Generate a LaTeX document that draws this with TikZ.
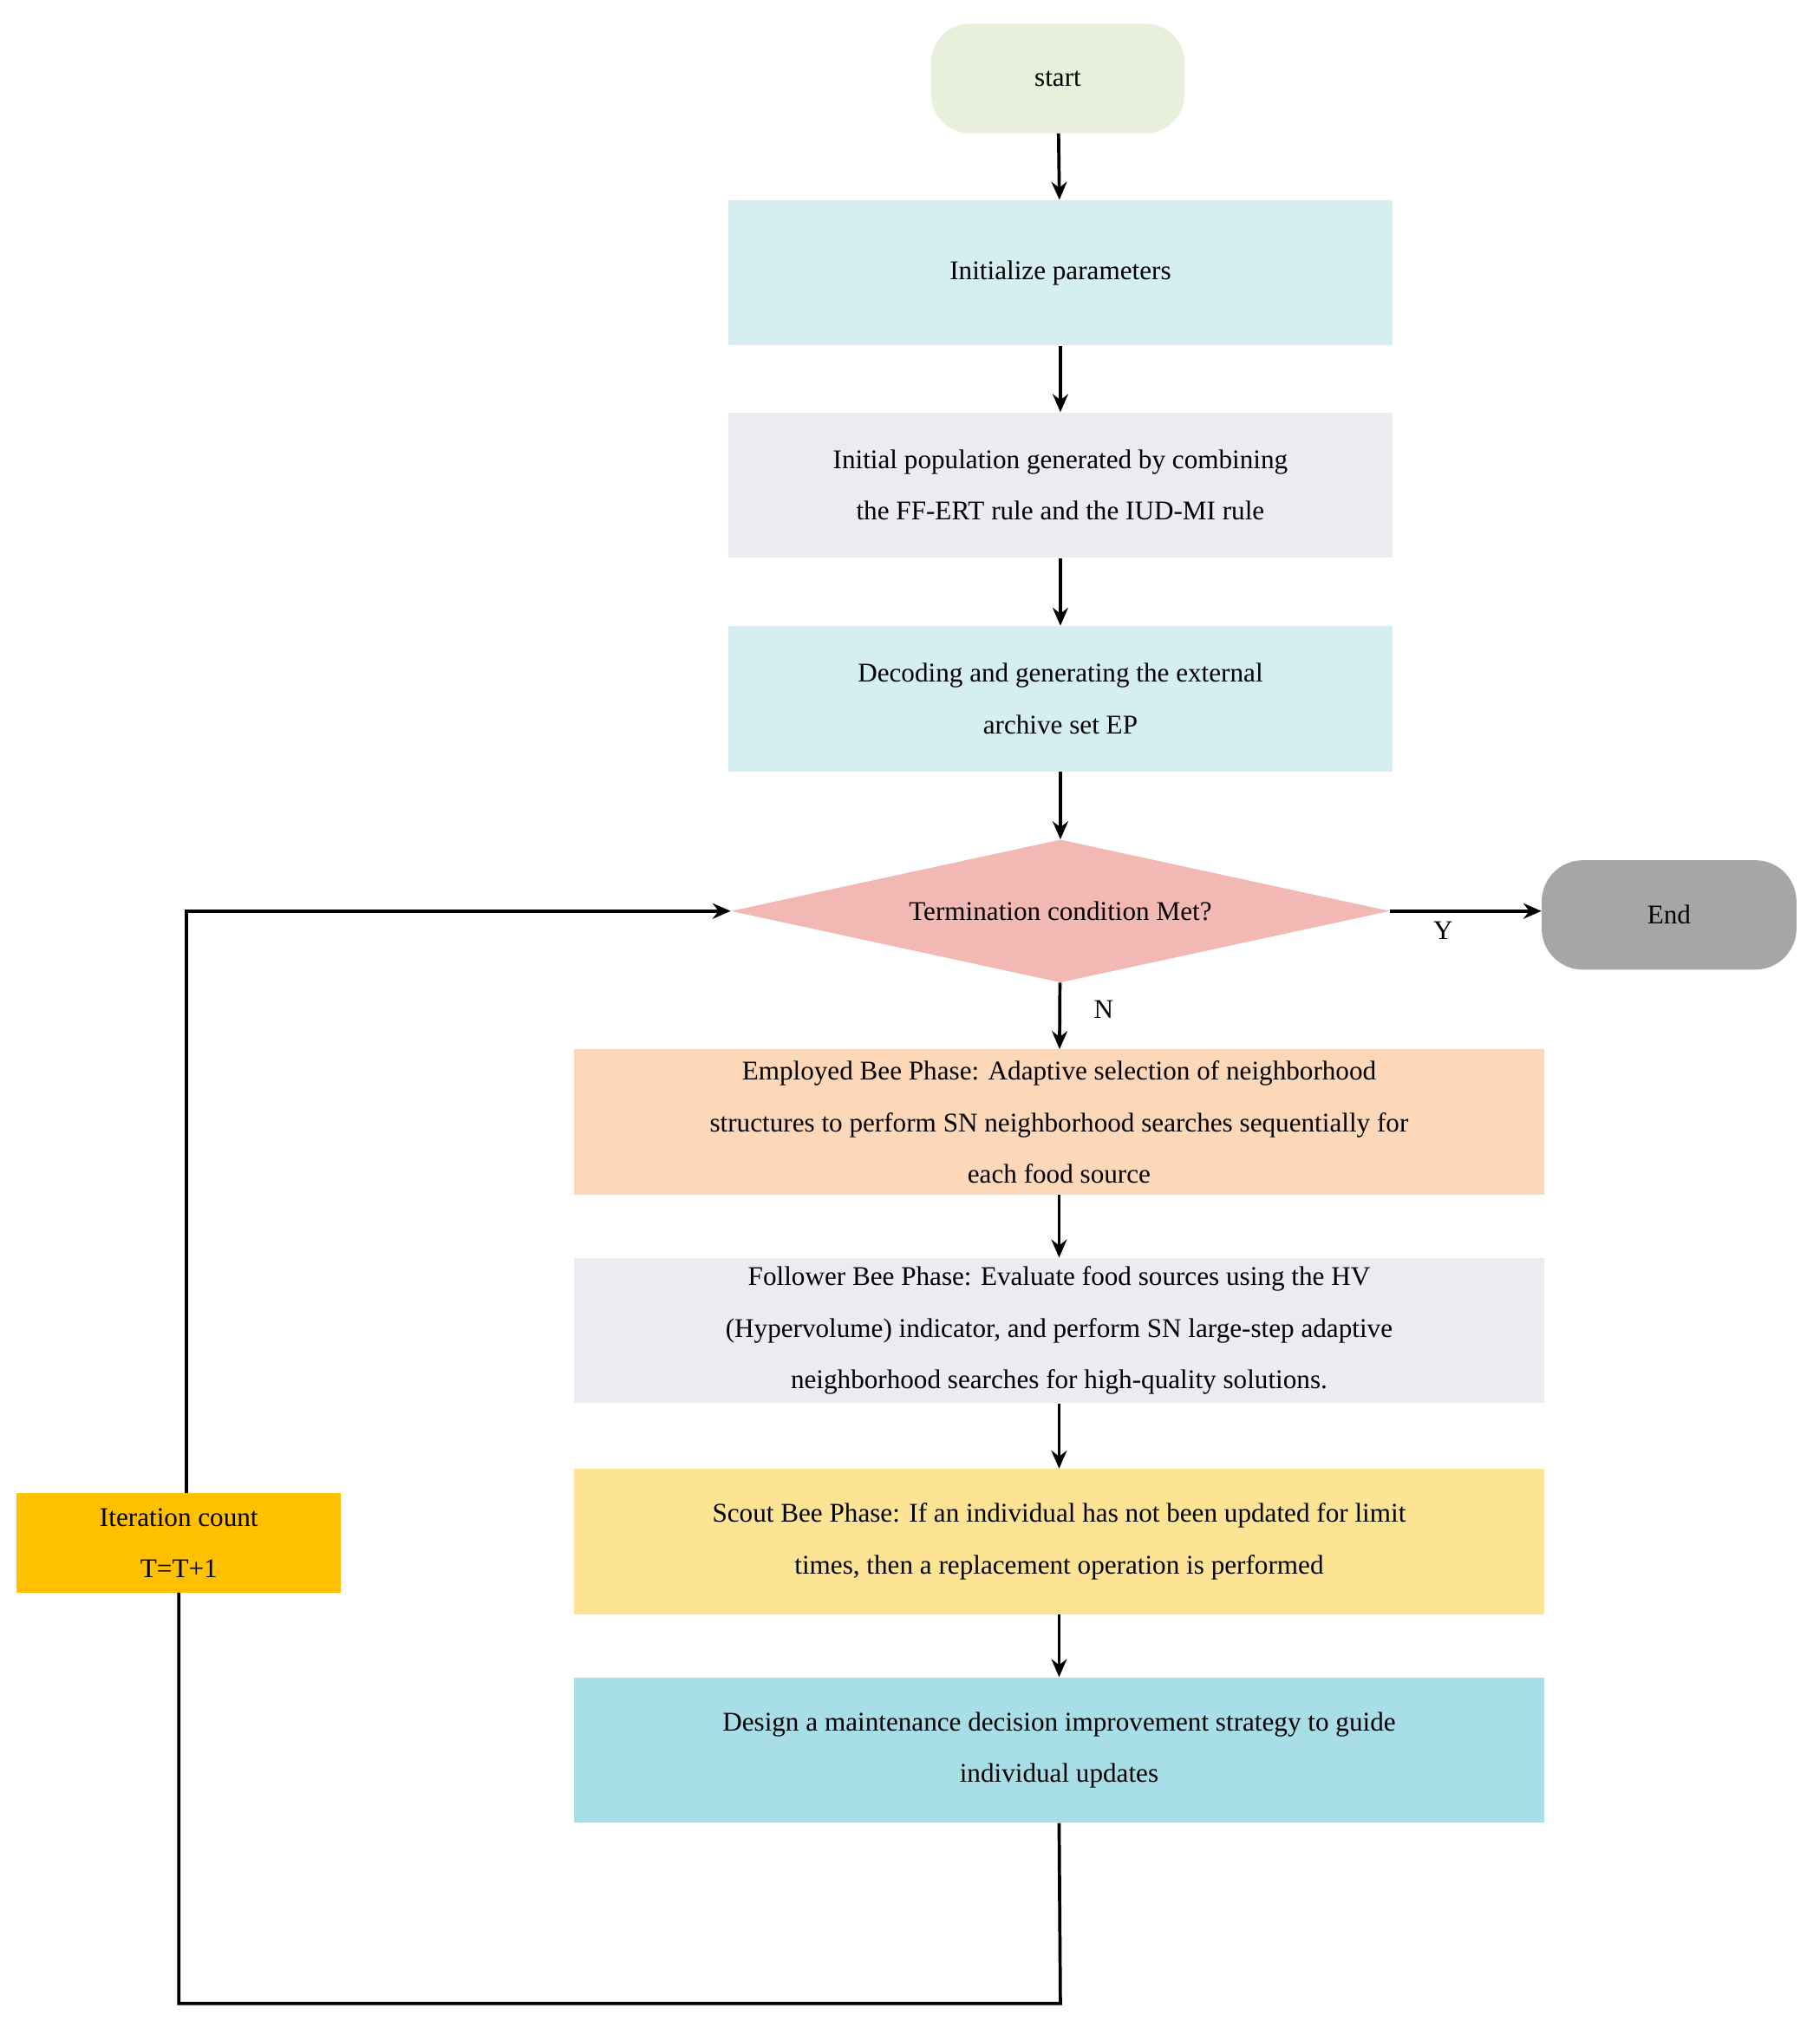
\documentclass[tikz,border=0pt]{standalone}
\usepackage{fontspec}
\setmainfont{Liberation Serif}
\usetikzlibrary{shapes.geometric,arrows.meta}
\begin{document}
\begin{tikzpicture}[x=1pt,y=-1pt,
 box/.style={draw=none,minimum width=#1,minimum height=113pt,align=center,font=\fontsize{21}{40}\selectfont,inner sep=2pt},
 arr/.style={-{Stealth[length=14pt,width=12pt]},line width=2.5pt},
 ln/.style={line width=2.5pt}]
\useasboundingbox (0,0) rectangle (1414,1576);
\node[fill={rgb,255:red,232;green,240;blue,220},rounded corners=30pt,minimum width=197pt,minimum height=85pt,font=\fontsize{21}{26}\selectfont] (start) at (822,61) {start};
\node[box=516pt,fill={rgb,255:red,213;green,238;blue,242}] (init) at (824,212) {Initialize parameters};
\node[box=516pt,fill={rgb,255:red,238;green,234;blue,242}] (pop) at (824,377) {Initial population generated by combining\\the FF-ERT rule and the IUD-MI rule};
\node[box=516pt,fill={rgb,255:red,213;green,238;blue,242}] (dec) at (824,543) {Decoding and generating the external\\archive set EP};
\node[diamond,aspect=4.6,fill={rgb,255:red,242;green,184;blue,180},minimum width=512pt,minimum height=111pt,inner sep=0pt,font=\fontsize{21}{26}\selectfont] (cond) at (824,708) {Termination condition Met?};
\node[fill={rgb,255:red,166;green,166;blue,166},rounded corners=32pt,minimum width=198pt,minimum height=85pt,font=\fontsize{21}{26}\selectfont] (end) at (1297,711) {End};
\node[box=754pt,fill={rgb,255:red,253;green,216;blue,184}] (emp) at (823,872) {Employed Bee Phase: Adaptive selection of neighborhood\\structures to perform SN neighborhood searches sequentially for\\each food source};
\node[box=754pt,fill={rgb,255:red,238;green,234;blue,242}] (fol) at (823,1034) {Follower Bee Phase: Evaluate food sources using the HV\\(Hypervolume) indicator, and perform SN large-step adaptive\\neighborhood searches for high-quality solutions.};
\node[box=754pt,fill={rgb,255:red,252;green,228;blue,148}] (sco) at (823,1198) {Scout Bee Phase: If an individual has not been updated for limit\\times, then a replacement operation is performed};
\node[box=754pt,fill={rgb,255:red,168;green,222;blue,232}] (des) at (823,1360) {Design a maintenance decision improvement strategy to guide\\individual updates};
\node[fill={rgb,255:red,255;green,192;blue,0},minimum width=252pt,minimum height=77pt,align=center,font=\fontsize{21}{40}\selectfont,inner sep=1pt] (it) at (139,1199) {Iteration count\\T=T+1};
\draw[arr] (start) -- (init);
\draw[arr] (init) -- (pop);
\draw[arr] (pop) -- (dec);
\draw[arr] (dec) -- (cond);
\draw[arr] (cond) -- node[right=22pt,pos=0.4,font=\fontsize{21}{26}\selectfont]{N} (emp);
\draw[arr] (cond) -- node[below=4pt,pos=0.35,font=\fontsize{21}{26}\selectfont]{Y} (end.west|-cond);
\draw[arr] (emp) -- (fol);
\draw[arr] (fol) -- (sco);
\draw[arr] (sco) -- (des);
\draw[ln] (des.south) -- (824,1557) -- (139,1557) -- (it.south);
\draw[arr] (it.north-|145,0) -- (145,708) -- (cond.west);
\end{tikzpicture}
\end{document}
